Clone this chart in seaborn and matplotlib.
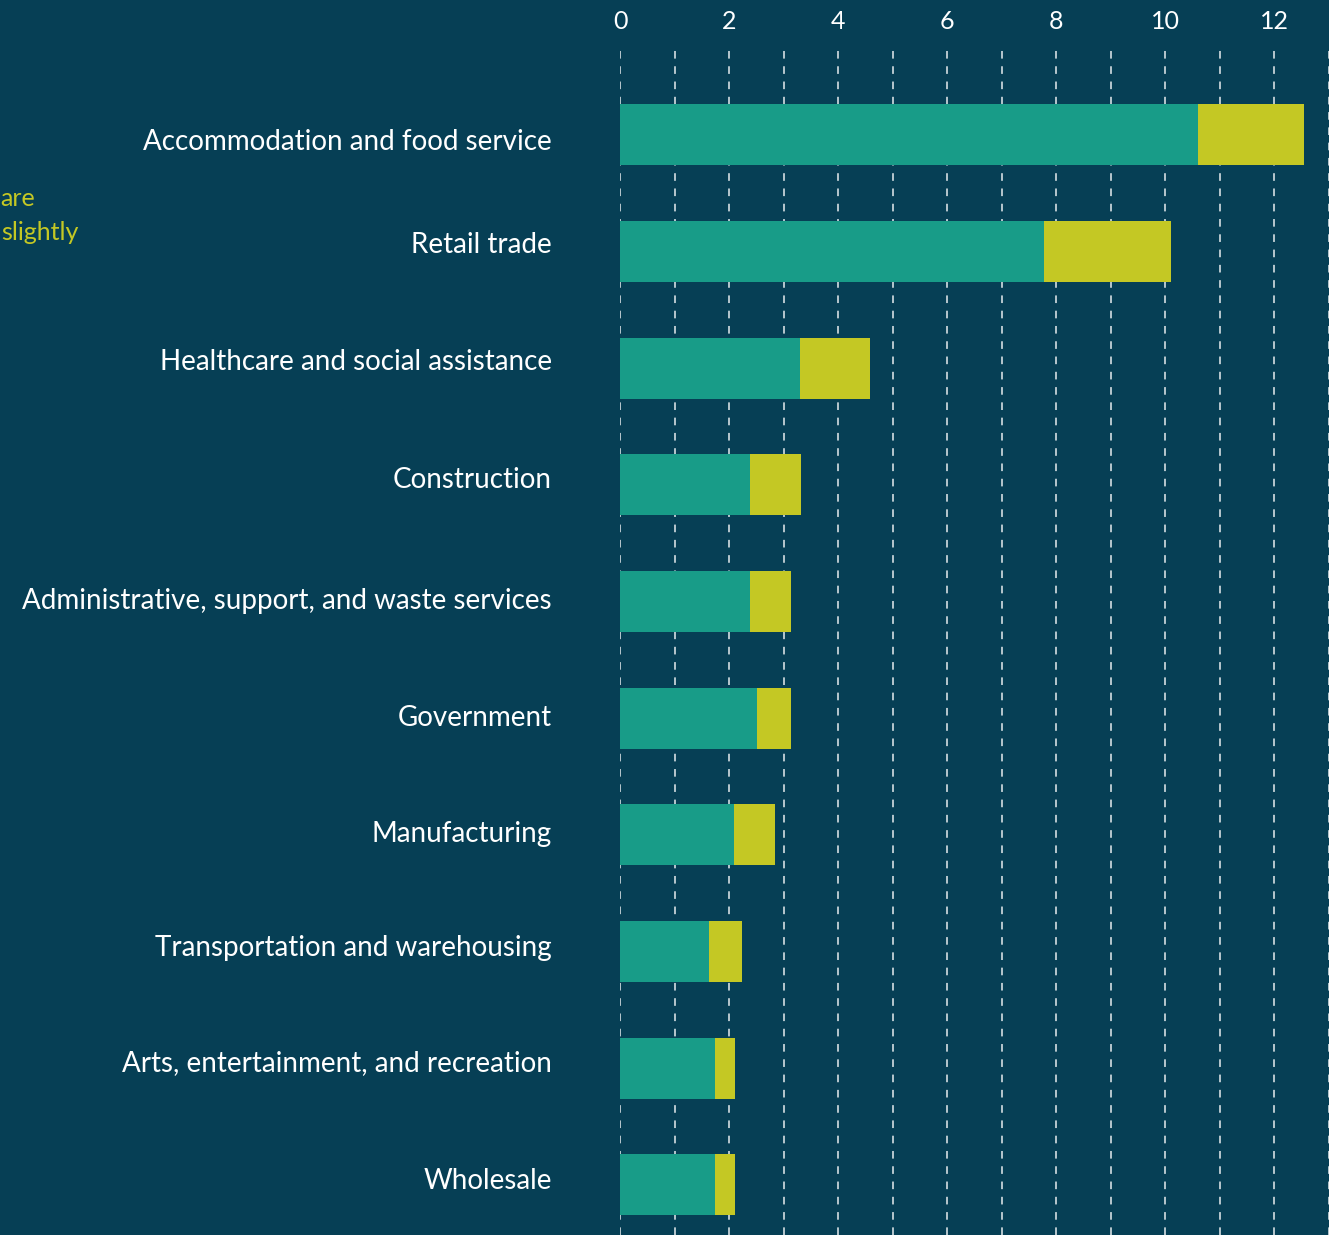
import matplotlib
matplotlib.use("Agg")
import matplotlib.pyplot as plt
import matplotlib.transforms as mtransforms
import seaborn as sns
import pandas as pd
import numpy as np

# DATA
industries = [
    "Accommodation and food service",
    "Retail trade",
    "Healthcare and social assistance",
    "Construction",
    "Administrative, support, and waste services",
    "Government",
    "Manufacturing",
    "Transportation and warehousing",
    "Arts, entertainment, and recreation",
    "Wholesale",
]
first_part = [10.6, 7.77, 3.3, 2.38, 2.38, 2.51, 2.09, 1.63, 1.74, 1.74]
second_part = [1.95, 2.33, 1.28, 0.94, 0.75, 0.62, 0.75, 0.60, 0.37, 0.37]
x_ticks = [0, 2, 4, 6, 8, 10, 12]

# COLOURS
BG = "#063f55"
TEAL = "#189c88"
LIME = "#c4c824"

df = pd.DataFrame({"industry": industries, "first": first_part, "second": second_part})
df["total"] = df["first"] + df["second"]

sns.set_theme(style="white")
plt.rcParams["font.family"] = ["Lato", "DejaVu Sans"]

fig = plt.figure(figsize=(13.29, 12.35), dpi=100, facecolor=BG)
ax = fig.add_axes([620 / 1329, 0.0, 709 / 1329, 1 - 45 / 1235])
ax.set_facecolor(BG)

# STACKED BARS: total first, then first part on top
sns.barplot(data=df, x="total", y="industry", orient="h", color=LIME,
            width=0.525, saturation=1, linewidth=0, ax=ax, zorder=3)
sns.barplot(data=df, x="first", y="industry", orient="h", color=TEAL,
            width=0.525, saturation=1, linewidth=0, ax=ax, zorder=4)

ax.set_xlim(0, 13)
ax.set_ylim(9.43, -0.77)

# DASHED GRID AT EVERY UNIT
for v in range(0, 14):
    ax.axvline(v, color="white", lw=1.1, ls=(0, (5, 5)), alpha=0.9, zorder=1)

ax.xaxis.tick_top()
ax.set_xticks(x_ticks)
ax.set_xticklabels([str(t) for t in x_ticks])
ax.tick_params(axis="x", length=0, pad=8.5, labelsize=18, colors="white")
ax.tick_params(axis="y", length=0, pad=49, labelsize=20, colors="white")
for s in ax.spines.values():
    s.set_visible(False)
ax.set_xlabel("")
ax.set_ylabel("")

# small vertical nudges of the category labels (pixels, + is down)
nudges = [5, -9, -9, -7, -3, -3, -3, -6, -8, -6]
for lab, dy in zip(ax.get_yticklabels(), nudges):
    lab.set_transform(lab.get_transform() +
                      mtransforms.ScaledTranslation(0, -dy / 100, fig.dpi_scale_trans))

# CLIPPED ANNOTATION ON THE LEFT
fig.text(0.0, 1 - 198 / 1235, "are", color=LIME, fontsize=18, ha="left", va="center")
fig.text(0.001, 1 - 233 / 1235, "slightly", color=LIME, fontsize=18, ha="left", va="center")

fig.savefig("out.png", dpi=100, facecolor=BG)
